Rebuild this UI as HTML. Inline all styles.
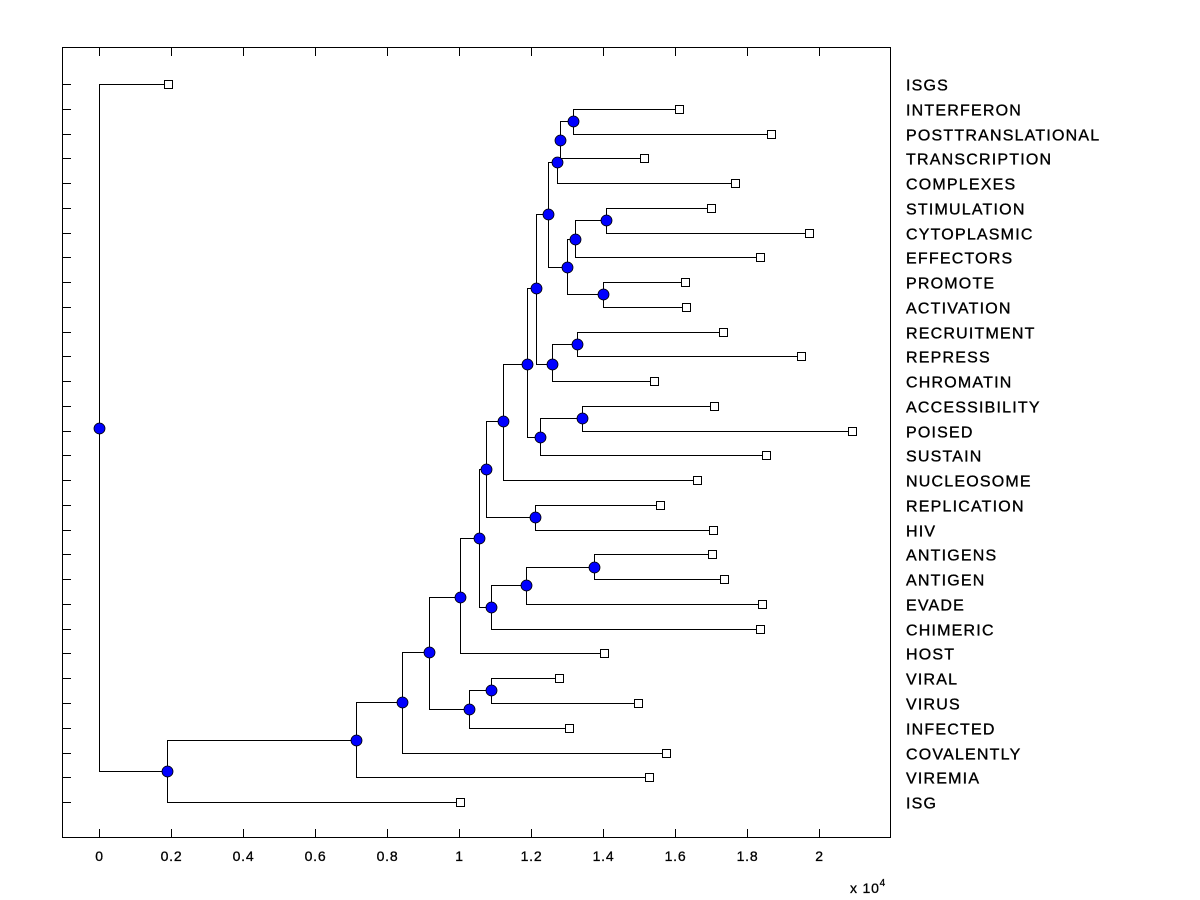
<!DOCTYPE html>
<html><head><meta charset="utf-8"><style>
body{margin:0;background:#fff;}
svg{display:block;font-family:"Liberation Sans",Arial,sans-serif;}
.lbl{letter-spacing:1.2px;stroke:#000;stroke-width:0.35px;}
.tkl{letter-spacing:0.8px;stroke:#000;stroke-width:0.3px;}
</style></head><body>
<svg id="chart" width="1200" height="900" viewBox="0 0 1200 900" shape-rendering="crispEdges">
<rect x="0" y="0" width="1200" height="900" fill="#fff"/>
<g id="edges"></g>
<g id="marks" shape-rendering="auto"></g>
<rect x="62.5" y="47.5" width="828" height="790" fill="none" stroke="#000" stroke-width="1"/>
<g id="axes"></g>
<text x="850" y="893" font-size="14" class="tkl">x 10<tspan font-size="10" dy="-7">4</tspan></text>
</svg>
<script>
const leafNames = ["ISGS","INTERFERON","POSTTRANSLATIONAL","TRANSCRIPTION","COMPLEXES","STIMULATION","CYTOPLASMIC","EFFECTORS","PROMOTE","ACTIVATION","RECRUITMENT","REPRESS","CHROMATIN","ACCESSIBILITY","POISED","SUSTAIN","NUCLEOSOME","REPLICATION","HIV","ANTIGENS","ANTIGEN","EVADE","CHIMERIC","HOST","VIRAL","VIRUS","INFECTED","COVALENTLY","VIREMIA","ISG"];
const leafX = [0.192,1.611,1.867,1.514,1.767,1.700,1.972,1.836,1.628,1.631,1.733,1.950,1.542,1.708,2.092,1.853,1.661,1.558,1.706,1.703,1.736,1.842,1.836,1.403,1.278,1.497,1.306,1.575,1.528,1.003];
const nodeNames = ["root","a","b","c","d","e","f","g","h","i","j","k","l","m","n","o","q","r","p","t","u","s","w","x","y","z","v","ab","aa"];
const nodeX = [0,0.189,0.714,0.842,0.917,1.003,1.028,1.089,1.056,1.075,1.089,1.186,1.375,1.122,1.211,1.189,1.225,1.342,1.214,1.258,1.328,1.247,1.300,1.322,1.400,1.408,1.281,1.317,1.272];
const nodeRow = [13.89,27.75,26.49,24.96,22.94,20.72,25.24,24.47,18.34,15.55,21.12,20.23,19.51,13.61,17.49,11.31,14.26,13.49,8.24,11.31,10.50,5.25,7.39,6.26,8.48,5.49,2.26,1.49,3.15];
const edges = [
["root","L:ISGS"],["root","n:a"],
["a","n:b"],["a","L:ISG"],
["b","n:c"],["b","L:VIREMIA"],
["c","n:d"],["c","L:COVALENTLY"],
["d","n:e"],["d","n:f"],
["f","n:g"],["f","L:INFECTED"],
["g","L:VIRAL"],["g","L:VIRUS"],
["e","n:h"],["e","L:HOST"],
["h","n:i"],["h","n:j"],
["j","n:k"],["j","L:CHIMERIC"],
["k","n:l"],["k","L:EVADE"],
["l","L:ANTIGENS"],["l","L:ANTIGEN"],
["i","n:m"],["i","n:n"],
["n","L:REPLICATION"],["n","L:HIV"],
["m","n:o"],["m","L:NUCLEOSOME"],
["o","n:p"],["o","n:q"],
["q","n:r"],["q","L:SUSTAIN"],
["r","L:ACCESSIBILITY"],["r","L:POISED"],
["p","n:s"],["p","n:t"],
["t","n:u"],["t","L:CHROMATIN"],
["u","L:RECRUITMENT"],["u","L:REPRESS"],
["s","n:aa"],["s","n:w"],
["w","n:x"],["w","n:y"],
["x","n:z"],["x","L:EFFECTORS"],
["z","L:STIMULATION"],["z","L:CYTOPLASMIC"],
["y","L:PROMOTE"],["y","L:ACTIVATION"],
["v","n:ab"],["v","n:aa"],
["ab","L:INTERFERON"],["ab","L:POSTTRANSLATIONAL"],
["aa","L:TRANSCRIPTION"],["aa","L:COMPLEXES"]
];
const xTicks = [0,0.2,0.4,0.6,0.8,1,1.2,1.4,1.6,1.8,2];
const xTickLabels = ["0","0.2","0.4","0.6","0.8","1","1.2","1.4","1.6","1.8","2"];

const NS="http://www.w3.org/2000/svg";
const sx = v => Math.round(99 + v*360)+0.5;
const sy = r => Math.round(84 + r*24.76)+0.5;
function mk(tag, attrs, parent){const e=document.createElementNS(NS,tag);for(const k in attrs)e.setAttribute(k,attrs[k]);parent.appendChild(e);return e;}
function pos(ref){
  if(ref.startsWith("L:")){const i=leafNames.indexOf(ref.slice(2));return [sx(leafX[i]),sy(i)];}
  const i=nodeNames.indexOf(ref.startsWith("n:")?ref.slice(2):ref);return [sx(nodeX[i]),sy(nodeRow[i])];
}
const gE=document.getElementById("edges"), gM=document.getElementById("marks"), gA=document.getElementById("axes");
edges.forEach(([p,c])=>{
  const [px,py]=pos(p), [cx,cy]=pos(c);
  const e=mk("path",{d:`M${px},${py}V${cy}H${cx}`,fill:"none",stroke:"#000","stroke-width":1},gE);
  
  
});
leafNames.forEach((n,i)=>{
  const x=sx(leafX[i]), y=sy(i);
  const r=mk("rect",{x:x-4,y:y-4,width:8,height:8,fill:"#fff",stroke:"#000","stroke-width":1},gM);
  
  
  const t=mk("text",{x:906,y:y+6,"font-size":16,"class":"lbl"},gA);
  t.textContent=n;
  
  
  const tk=mk("line",{x1:63,x2:71,y1:y,y2:y,stroke:"#000"},gA);
  
  
});
nodeNames.forEach((n,i)=>{
  const c=mk("circle",{cx:sx(nodeX[i]),cy:sy(nodeRow[i]),r:5.5,fill:"#0000ff",stroke:"#000","stroke-width":0.8},gM);
  
  
});
xTicks.forEach((v,i)=>{
  const x=sx(v);
  const a=mk("line",{x1:x,x2:x,y1:837,y2:829,stroke:"#000"},gA);
  
  
  const b=mk("line",{x1:x,x2:x,y1:48,y2:56,stroke:"#000"},gA);
  
  
  const t=mk("text",{x:x,y:861,"font-size":14,"text-anchor":"middle","class":"tkl"},gA);
  t.textContent=xTickLabels[i];
  
  
});
</script>
</body></html>
